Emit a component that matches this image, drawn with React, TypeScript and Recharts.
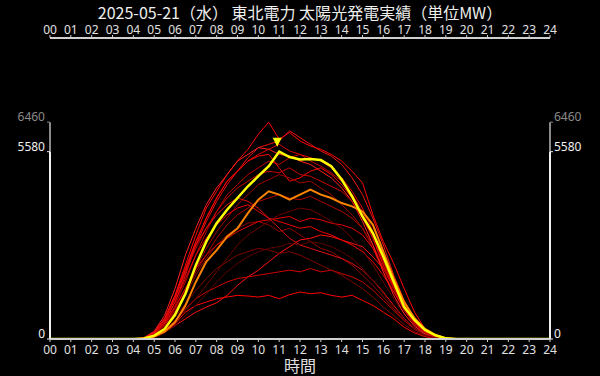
import React from 'react';
import { LineChart, Line, XAxis, YAxis, ReferenceLine, ReferenceDot } from 'recharts';

const TITLE = '2025-05-21（水） 東北電力 太陽光発電実績（単位MW）';
const X_LABEL = '時間';
const HOUR_TICKS = [0, 1, 2, 3, 4, 5, 6, 7, 8, 9, 10, 11, 12, 13, 14, 15, 16, 17, 18, 19, 20, 21, 22, 23, 24];
const Y_TICKS = [0, 5580, 6460];
const TODAY_MAX = 5580;
const ALL_MAX = 6460;

// half-hour slots covered by the arrays below: 04:00 ... 19:30 (zero elsewhere)
const SLOT_START = 4;

const TODAY = [0, 15, 100, 300, 720, 1350, 2200, 2900, 3450, 3850, 4200, 4550, 4850, 5150, 5580, 5420, 5350, 5360, 5330, 5150, 4750, 4250, 3650, 3150, 2450, 1700, 950, 560, 270, 110, 20, 0];
const AVERAGE = [0, 10, 70, 220, 500, 1000, 1700, 2300, 2650, 3050, 3300, 3750, 4150, 4400, 4300, 4150, 4300, 4450, 4300, 4200, 4050, 3950, 3800, 3400, 2600, 1800, 1100, 620, 300, 120, 25, 0];

const PAST_01 = [0, 30, 200, 600, 1300, 2200, 3100, 3900, 4400, 4900, 5300, 5650, 6100, 6460, 5950, 6150, 5900, 5750, 5650, 5500, 5300, 5000, 4650, 3700, 2900, 2250, 1500, 800, 300, 90, 10, 0];
const PAST_02 = [0, 20, 150, 500, 1100, 1900, 2800, 3500, 4100, 4600, 5000, 5400, 5700, 5800, 5900, 6200, 6000, 5800, 5600, 5450, 5200, 4800, 4300, 3600, 2800, 1900, 1150, 600, 250, 70, 10, 0];
const PAST_03 = [0, 25, 180, 560, 1200, 2000, 2900, 3600, 4200, 4700, 5000, 5300, 5500, 5650, 5800, 5600, 5500, 5400, 5300, 5100, 4800, 4400, 3900, 3200, 2500, 1700, 1000, 520, 220, 60, 8, 0];
const PAST_04 = [0, 20, 140, 450, 1000, 1700, 2500, 3200, 3800, 4300, 4600, 4900, 5100, 5300, 5200, 5400, 5500, 5300, 5150, 4950, 4700, 4300, 3800, 3100, 2300, 1550, 900, 450, 180, 50, 5, 0];
const PAST_05 = [0, 30, 200, 620, 1300, 2100, 2900, 3600, 4200, 4700, 5000, 5300, 5450, 5500, 5100, 4700, 4800, 5000, 5100, 4900, 4600, 4200, 3700, 3000, 2200, 1500, 850, 430, 170, 45, 5, 0];
const PAST_06 = [0, 15, 120, 400, 900, 1500, 2100, 2700, 3200, 3600, 4000, 4300, 4600, 4750, 4900, 4800, 4650, 4700, 4500, 4300, 4000, 3700, 3300, 2700, 2000, 1400, 850, 430, 170, 45, 5, 0];
const PAST_07 = [0, 10, 60, 200, 400, 600, 800, 950, 1080, 1300, 1600, 1850, 2050, 2300, 2550, 2750, 2950, 3000, 3100, 3050, 2950, 2850, 2750, 2450, 2100, 1600, 1050, 600, 260, 80, 10, 0];
const PAST_08 = [0, 10, 80, 250, 550, 900, 1200, 1400, 1550, 1700, 1800, 1850, 1900, 1950, 2000, 2050, 2000, 2100, 2000, 2050, 1950, 1850, 1700, 1450, 1150, 850, 550, 300, 130, 40, 5, 0];
const PAST_09 = [0, 8, 50, 200, 450, 800, 1000, 1100, 1200, 1250, 1300, 1280, 1250, 1300, 1200, 1320, 1400, 1350, 1380, 1300, 1250, 1300, 1150, 1000, 800, 600, 350, 180, 70, 20, 3, 0];
const PAST_10 = [0, 15, 120, 380, 800, 1300, 1900, 2400, 2800, 3100, 3300, 3450, 3500, 3400, 3200, 3300, 3100, 2900, 2700, 2600, 2400, 2200, 1900, 1600, 1250, 900, 550, 280, 110, 30, 3, 0];
const PAST_11 = [0, 20, 160, 500, 1100, 1800, 2500, 3000, 3400, 3700, 3900, 4000, 3800, 3600, 3500, 3400, 3300, 3350, 3200, 3100, 2950, 2800, 2600, 2300, 1900, 1400, 900, 480, 200, 55, 6, 0];
const PAST_12 = [0, 10, 90, 300, 650, 1050, 1450, 1800, 2100, 2300, 2500, 2600, 2700, 2650, 2550, 2600, 2500, 2350, 2200, 2050, 1900, 1700, 1500, 1250, 950, 700, 430, 220, 90, 25, 3, 0];
const PAST_13 = [0, 20, 150, 450, 950, 1500, 2100, 2500, 2800, 3000, 3200, 3350, 3500, 3550, 3600, 3650, 3500, 3600, 3550, 3450, 3400, 3300, 3100, 2700, 2100, 1500, 950, 500, 200, 55, 6, 0];
const PAST_14 = [0, 15, 130, 400, 850, 1400, 2000, 2500, 3000, 3400, 3700, 3900, 4100, 4200, 4300, 4200, 4150, 4250, 4100, 3950, 3800, 3600, 3300, 2800, 2150, 1500, 900, 470, 190, 50, 5, 0];
const PAST_15 = [0, 10, 70, 250, 500, 850, 1200, 1600, 2000, 2400, 2800, 3100, 3300, 3500, 3700, 3800, 3900, 3850, 3700, 3500, 3300, 3000, 2650, 2200, 1700, 1200, 750, 380, 150, 40, 4, 0];
const PAST_16 = [0, 35, 230, 700, 1500, 2500, 3300, 4000, 4500, 4900, 5300, 5500, 5700, 5650, 5500, 5450, 5300, 5200, 5000, 4800, 4500, 4100, 3500, 2800, 2000, 1300, 750, 380, 150, 40, 5, 0];
const PAST_17 = [0, 25, 180, 550, 1200, 2000, 2700, 3300, 3800, 4200, 4500, 4700, 4900, 5000, 4950, 5100, 4900, 4850, 4700, 4550, 4400, 4100, 3600, 3000, 2300, 1600, 950, 480, 190, 50, 5, 0];
const PAST_18 = [0, 25, 190, 580, 1250, 2050, 2800, 3300, 3700, 4000, 4200, 4100, 3900, 3600, 3300, 3000, 2800, 2700, 2600, 2500, 2400, 2250, 2050, 1750, 1400, 1000, 620, 320, 130, 35, 4, 0];
const PAST_19 = [0, 5, 50, 180, 400, 700, 1000, 1350, 1700, 2000, 2250, 2450, 2600, 2700, 2750, 2850, 2800, 2900, 2850, 2750, 2600, 2400, 2100, 1750, 1350, 950, 600, 300, 120, 30, 3, 0];

const PAST = [PAST_01, PAST_02, PAST_03, PAST_04, PAST_05, PAST_06, PAST_07, PAST_08, PAST_09, PAST_10,
  PAST_11, PAST_12, PAST_13, PAST_14, PAST_15, PAST_16, PAST_17, PAST_18, PAST_19];
const PAST_COLORS = ['#ff0000', '#f01010', '#e00000', '#c00000', '#ff0000', '#a00000', '#ff1010', '#d00000', '#ff0000',
  '#900000', '#f00000', '#800000', '#e80000', '#b00000', '#700000', '#ff2020', '#d00000', '#e01010', '#600000'];

const TIMES = Array.from({ length: 49 }, (_, i) => i / 2);

function valueAt(arr: number[], t: number) {
  const idx = Math.round((t - SLOT_START) * 2);
  return idx >= 0 && idx < arr.length ? arr[idx] : 0;
}

const rows = TIMES.map((t) => {
  const r: Record<string, number> = { t, today: valueAt(TODAY, t), avg: valueAt(AVERAGE, t) };
  PAST.forEach((p, i) => { r['p' + i] = valueAt(p, t); });
  return r;
});

const peakIdx = TODAY.indexOf(Math.max(...TODAY));
const PEAK_T = SLOT_START + peakIdx / 2;
const PEAK_V = TODAY[peakIdx];

const fmt = (v: number) => String(v).padStart(2, '0');
const FONT = '"Noto Sans", sans-serif';
const AXIS_COLOR = '#d0d0d0';

function YTick(props: any) {
  const { x, y, payload, side } = props;
  const gray = payload.value === ALL_MAX;
  const color = gray ? '#8a8a8a' : '#f0f0f0';
  if (side === 'left') {
    return (
      <g>
        <line x1={x + 2} x2={x + 5} y1={y} y2={y} stroke={color} strokeWidth={1} />
        <text x={x} y={y - 1} textAnchor="end" fill={color} fontSize={12} fontFamily={FONT}>{payload.value}</text>
      </g>
    );
  }
  return (
    <g>
      <line x1={x - 4} x2={x - 1} y1={y} y2={y} stroke={color} strokeWidth={1} />
      <text x={x} y={y - 1} textAnchor="start" fill={color} fontSize={12} fontFamily={FONT}>{payload.value}</text>
    </g>
  );
}

const Triangle = (p: any) => {
  const { cx, cy } = p;
  return <polygon points={`${cx - 6.5},${cy - 14} ${cx + 2.5},${cy - 14} ${cx - 2},${cy - 5}`} fill="#ffff00" />;
};

export default function App() {
  return (
    <div style={{ position: 'absolute', left: 0, top: 0, width: 600, height: 376, background: '#000', overflow: 'hidden' }}>
      <div style={{ position: 'absolute', left: 0, top: 4, width: 600, textAlign: 'center', color: '#eeeeee',
        fontFamily: '"Noto Sans CJK JP", sans-serif', fontSize: 16, lineHeight: '16px', whiteSpace: 'nowrap' }}>
        {TITLE}
      </div>
      <div style={{ position: 'absolute', left: 0, top: 0 }}>
        <LineChart width={600} height={376} data={rows} margin={{ top: 18, right: 0, bottom: 0, left: 0 }}>
          <XAxis xAxisId="top" orientation="top" type="number" dataKey="t" domain={[0, 24]} ticks={HOUR_TICKS}
            interval={0} tickFormatter={fmt} height={20} tickSize={3} tickMargin={1}
            axisLine={{ stroke: AXIS_COLOR, strokeWidth: 2 }} tickLine={{ stroke: AXIS_COLOR }}
            tick={{ fill: '#e0e0e0', fontSize: 12, fontFamily: FONT }} allowDataOverflow />
          <XAxis xAxisId="bottom" orientation="bottom" type="number" dataKey="t" domain={[0, 24]} ticks={HOUR_TICKS}
            interval={0} tickFormatter={fmt} height={37} tickSize={3} tickMargin={3}
            axisLine={{ stroke: AXIS_COLOR, strokeWidth: 2 }} tickLine={{ stroke: AXIS_COLOR }}
            tick={{ fill: '#e0e0e0', fontSize: 12, fontFamily: FONT }} allowDataOverflow
            label={{ value: X_LABEL, position: 'insideBottom', offset: 4, fill: '#e0e0e0', fontSize: 16, fontFamily: '"Noto Sans CJK JP", sans-serif' }} />
          <YAxis yAxisId="left" orientation="left" type="number" domain={[0, 8967]} ticks={Y_TICKS} width={50}
            axisLine={false} tickLine={false} tickSize={3} tickMargin={2} interval={0} allowDataOverflow
            tick={(p: any) => <YTick {...p} side="left" />} />
          <YAxis yAxisId="right" orientation="right" type="number" domain={[0, 8967]} ticks={Y_TICKS} width={50}
            axisLine={false} tickLine={false} tickSize={3} tickMargin={1} interval={0} allowDataOverflow
            tick={(p: any) => <YTick {...p} side="right" />} />
          <ReferenceLine xAxisId="bottom" yAxisId="left" segment={[{ x: 0, y: TODAY_MAX }, { x: 0, y: ALL_MAX }]} stroke="#8a8a8a" strokeWidth={2} />
          <ReferenceLine xAxisId="bottom" yAxisId="left" segment={[{ x: 0, y: 0 }, { x: 0, y: TODAY_MAX }]} stroke="#f0f0f0" strokeWidth={2} />
          <ReferenceLine xAxisId="bottom" yAxisId="left" segment={[{ x: 24, y: TODAY_MAX }, { x: 24, y: ALL_MAX }]} stroke="#8a8a8a" strokeWidth={2} />
          <ReferenceLine xAxisId="bottom" yAxisId="left" segment={[{ x: 24, y: 0 }, { x: 24, y: TODAY_MAX }]} stroke="#f0f0f0" strokeWidth={2} />
          {PAST.map((_, i) => (
            <Line key={i} xAxisId="bottom" yAxisId="left" type="linear" dataKey={'p' + i} stroke={PAST_COLORS[i]}
              strokeWidth={1} dot={false} activeDot={false} isAnimationActive={false} />
          ))}
          <Line xAxisId="bottom" yAxisId="left" type="linear" dataKey="avg" stroke="#ff8400" strokeWidth={2}
            dot={false} activeDot={false} isAnimationActive={false} />
          <Line xAxisId="bottom" yAxisId="left" type="linear" dataKey="today" stroke="#ffff00" strokeWidth={2.5}
            dot={false} activeDot={false} isAnimationActive={false} />
          <ReferenceDot xAxisId="bottom" yAxisId="left" x={PEAK_T} y={PEAK_V} r={0} shape={Triangle} />
        </LineChart>
      </div>
    </div>
  );
}
